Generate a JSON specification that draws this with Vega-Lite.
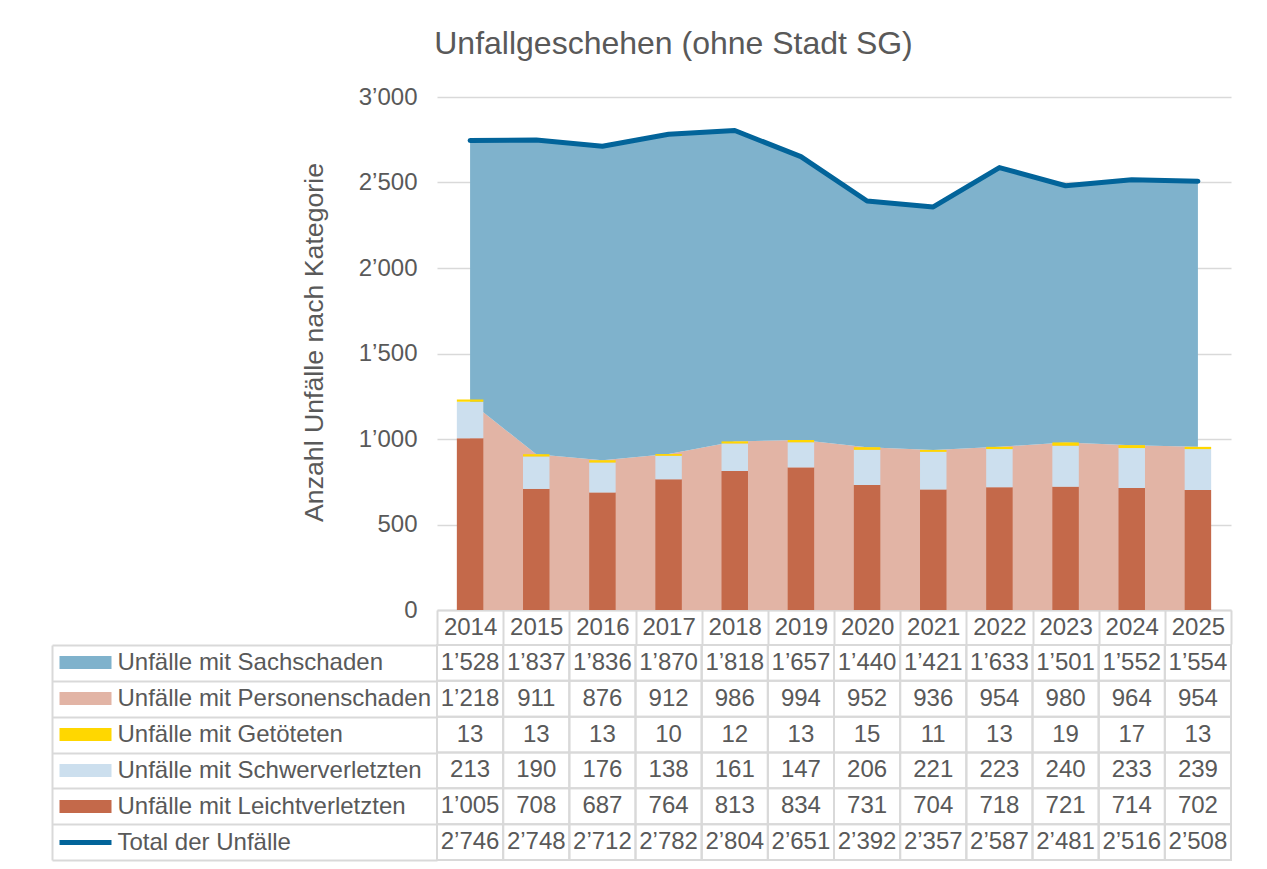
{
  "$schema": "https://vega.github.io/schema/vega-lite/v6.json",
  "padding": {"left": 51, "top": 28, "right": 10, "bottom": 5},
  "title": {"text": "Unfallgeschehen (ohne Stadt SG)", "fontSize": 32, "fontWeight": "normal", "color": "#595959", "anchor": "middle", "dx": 32, "offset": 24},
  "datasets": {
    "unfaelle": [
      {"Jahr": "2014", "Unfälle mit Sachschaden": 1528, "Unfälle mit Personenschaden": 1218, "Unfälle mit Getöteten": 13, "Unfälle mit Schwerverletzten": 213, "Unfälle mit Leichtverletzten": 1005, "Total der Unfälle": 2746},
      {"Jahr": "2015", "Unfälle mit Sachschaden": 1837, "Unfälle mit Personenschaden": 911, "Unfälle mit Getöteten": 13, "Unfälle mit Schwerverletzten": 190, "Unfälle mit Leichtverletzten": 708, "Total der Unfälle": 2748},
      {"Jahr": "2016", "Unfälle mit Sachschaden": 1836, "Unfälle mit Personenschaden": 876, "Unfälle mit Getöteten": 13, "Unfälle mit Schwerverletzten": 176, "Unfälle mit Leichtverletzten": 687, "Total der Unfälle": 2712},
      {"Jahr": "2017", "Unfälle mit Sachschaden": 1870, "Unfälle mit Personenschaden": 912, "Unfälle mit Getöteten": 10, "Unfälle mit Schwerverletzten": 138, "Unfälle mit Leichtverletzten": 764, "Total der Unfälle": 2782},
      {"Jahr": "2018", "Unfälle mit Sachschaden": 1818, "Unfälle mit Personenschaden": 986, "Unfälle mit Getöteten": 12, "Unfälle mit Schwerverletzten": 161, "Unfälle mit Leichtverletzten": 813, "Total der Unfälle": 2804},
      {"Jahr": "2019", "Unfälle mit Sachschaden": 1657, "Unfälle mit Personenschaden": 994, "Unfälle mit Getöteten": 13, "Unfälle mit Schwerverletzten": 147, "Unfälle mit Leichtverletzten": 834, "Total der Unfälle": 2651},
      {"Jahr": "2020", "Unfälle mit Sachschaden": 1440, "Unfälle mit Personenschaden": 952, "Unfälle mit Getöteten": 15, "Unfälle mit Schwerverletzten": 206, "Unfälle mit Leichtverletzten": 731, "Total der Unfälle": 2392},
      {"Jahr": "2021", "Unfälle mit Sachschaden": 1421, "Unfälle mit Personenschaden": 936, "Unfälle mit Getöteten": 11, "Unfälle mit Schwerverletzten": 221, "Unfälle mit Leichtverletzten": 704, "Total der Unfälle": 2357},
      {"Jahr": "2022", "Unfälle mit Sachschaden": 1633, "Unfälle mit Personenschaden": 954, "Unfälle mit Getöteten": 13, "Unfälle mit Schwerverletzten": 223, "Unfälle mit Leichtverletzten": 718, "Total der Unfälle": 2587},
      {"Jahr": "2023", "Unfälle mit Sachschaden": 1501, "Unfälle mit Personenschaden": 980, "Unfälle mit Getöteten": 19, "Unfälle mit Schwerverletzten": 240, "Unfälle mit Leichtverletzten": 721, "Total der Unfälle": 2481},
      {"Jahr": "2024", "Unfälle mit Sachschaden": 1552, "Unfälle mit Personenschaden": 964, "Unfälle mit Getöteten": 17, "Unfälle mit Schwerverletzten": 233, "Unfälle mit Leichtverletzten": 714, "Total der Unfälle": 2516},
      {"Jahr": "2025", "Unfälle mit Sachschaden": 1554, "Unfälle mit Personenschaden": 954, "Unfälle mit Getöteten": 13, "Unfälle mit Schwerverletzten": 239, "Unfälle mit Leichtverletzten": 702, "Total der Unfälle": 2508}
    ]
  },
  "data": {"name": "unfaelle"},
  "spacing": -12,
  "vconcat": [
    {
      "width": 794,
      "height": 513,
      "encoding": {
        "x": {
          "field": "Jahr", "type": "ordinal",
          "scale": {"type": "band", "paddingInner": 0, "paddingOuter": 0},
          "axis": {"title": null, "orient": "bottom", "tickBand": "extent", "tickSize": 34, "tickColor": "#D9D9D9", "tickWidth": 2, "domainColor": "#D9D9D9", "domainWidth": 2, "labelPadding": -17, "labelBaseline": "middle", "labelFontSize": 24, "labelColor": "#595959", "labelAngle": 0, "labelOverlap": false, "grid": false, "minExtent": 34, "maxExtent": 34}
        }
      },
      "layer": [
        {
          "transform": [{"fold": ["Unfälle mit Personenschaden", "Unfälle mit Sachschaden"]}],
          "mark": {"type": "area", "opacity": 1},
          "encoding": {
            "x": {"field": "Jahr", "type": "ordinal", "bandPosition": 0.5},
            "y": {"field": "value", "type": "quantitative", "stack": "zero", "scale": {"domain": [0, 3000], "nice": false},
              "axis": {"title": "Anzahl Unfälle nach Kategorie", "values": [0, 500, 1000, 1500, 2000, 2500, 3000], "format": ",d", "domain": false, "ticks": false, "labelPadding": 20, "labelFontSize": 24, "labelColor": "#595959", "titleFontSize": 26.7, "titleColor": "#595959", "titleFontWeight": "normal", "titlePadding": 30, "titleY": 245, "grid": true, "gridColor": "#D9D9D9", "gridWidth": 1.5}},
            "color": {"field": "key", "type": "nominal", "legend": null,
              "scale": {"domain": ["Unfälle mit Sachschaden", "Unfälle mit Personenschaden", "Unfälle mit Getöteten", "Unfälle mit Schwerverletzten", "Unfälle mit Leichtverletzten"], "range": ["#7FB2CC", "#E2B4A5", "#FFD700", "#CCDFEE", "#C4694A"]}},
            "order": {"field": "key", "sort": "ascending"}
          }
        },
        {
          "transform": [{"fold": ["Unfälle mit Leichtverletzten", "Unfälle mit Schwerverletzten", "Unfälle mit Getöteten"]}],
          "mark": {"type": "bar", "width": {"band": 0.4}},
          "encoding": {
            "y": {"field": "value", "type": "quantitative", "stack": "zero",
              "axis": {"title": "Anzahl Unfälle nach Kategorie", "values": [0, 500, 1000, 1500, 2000, 2500, 3000], "format": ",d", "domain": false, "ticks": false, "labelPadding": 20, "labelFontSize": 24, "labelColor": "#595959", "titleFontSize": 26.7, "titleColor": "#595959", "titleFontWeight": "normal", "titlePadding": 30, "titleY": 245, "grid": true, "gridColor": "#D9D9D9", "gridWidth": 1.5}},
            "color": {"field": "key", "type": "nominal", "legend": null,
              "scale": {"domain": ["Unfälle mit Sachschaden", "Unfälle mit Personenschaden", "Unfälle mit Getöteten", "Unfälle mit Schwerverletzten", "Unfälle mit Leichtverletzten"], "range": ["#7FB2CC", "#E2B4A5", "#FFD700", "#CCDFEE", "#C4694A"]}},
            "order": {"field": "value", "type": "quantitative", "sort": "descending"}
          }
        },
        {
          "mark": {"type": "line", "color": "#02649A", "strokeWidth": 5, "strokeCap": "round", "strokeJoin": "round"},
          "encoding": {
            "x": {"field": "Jahr", "type": "ordinal", "bandPosition": 0.5},
            "y": {"field": "Total der Unfälle", "type": "quantitative",
              "axis": {"title": "Anzahl Unfälle nach Kategorie", "values": [0, 500, 1000, 1500, 2000, 2500, 3000], "format": ",d", "domain": false, "ticks": false, "labelPadding": 20, "labelFontSize": 24, "labelColor": "#595959", "titleFontSize": 26.7, "titleColor": "#595959", "titleFontWeight": "normal", "titlePadding": 30, "titleY": 245, "grid": true, "gridColor": "#D9D9D9", "gridWidth": 1.5}}
          }
        }
      ]
    },
    {
      "width": 794,
      "height": 215,
      "transform": [{"fold": ["Unfälle mit Sachschaden", "Unfälle mit Personenschaden", "Unfälle mit Getöteten", "Unfälle mit Schwerverletzten", "Unfälle mit Leichtverletzten", "Total der Unfälle"]}],
      "encoding": {
        "x": {"field": "Jahr", "type": "ordinal", "scale": {"type": "band", "paddingInner": 0, "paddingOuter": 0}, "axis": null}
      },
      "layer": [
        {
          "mark": {"type": "rect", "color": "white"},
          "encoding": {
            "y": {"field": "key", "type": "nominal",
              "scale": {"domain": ["Unfälle mit Sachschaden", "Unfälle mit Personenschaden", "Unfälle mit Getöteten", "Unfälle mit Schwerverletzten", "Unfälle mit Leichtverletzten", "Total der Unfälle"], "paddingInner": 0, "paddingOuter": 0},
              "axis": {"orient": "left", "offset": 385, "title": null, "domain": true, "domainColor": "#D9D9D9", "domainWidth": 2, "ticks": false, "labels": false, "grid": false}}
          }
        },
        {
          "mark": {"type": "rect", "filled": false, "color": "#D9D9D9", "strokeWidth": 2},
          "encoding": {
            "y": {"field": "key", "type": "nominal",
              "axis": {"orient": "left", "title": null, "domain": false, "ticks": true, "tickBand": "extent", "tickSize": 385, "tickColor": "#D9D9D9", "tickWidth": 2, "labelAlign": "left", "labelBaseline": "middle", "labelPadding": -65, "labelFontSize": 24, "labelColor": "#595959", "labelLimit": 0, "grid": false}}
          }
        },
        {
          "mark": {"type": "text", "fontSize": 24, "color": "#595959"},
          "encoding": {
            "text": {"field": "value", "type": "quantitative", "format": ",d"},
            "y": {"field": "key", "type": "nominal",
              "axis": {"orient": "left", "offset": 326, "title": null, "domain": false, "labels": false, "ticks": true, "tickSize": 52,
                "tickWidth": {"condition": {"test": "datum.value === 'Total der Unfälle'", "value": 5}, "value": 13},
                "tickColor": {"condition": [
                  {"test": "datum.value === 'Unfälle mit Sachschaden'", "value": "#7FB2CC"},
                  {"test": "datum.value === 'Unfälle mit Personenschaden'", "value": "#E2B4A5"},
                  {"test": "datum.value === 'Unfälle mit Getöteten'", "value": "#FFD700"},
                  {"test": "datum.value === 'Unfälle mit Schwerverletzten'", "value": "#CCDFEE"},
                  {"test": "datum.value === 'Unfälle mit Leichtverletzten'", "value": "#C4694A"}
                ], "value": "#02649A"},
                "grid": false}}
          }
        }
      ],
      "resolve": {"axis": {"y": "independent"}}
    }
  ],
  "config": {
    "font": "Liberation Sans",
    "view": {"stroke": null},
    "concat": {"spacing": 0},
    "locale": {"number": {"decimal": ".", "thousands": "’", "grouping": [3], "currency": ["", ""]}}
  }
}
